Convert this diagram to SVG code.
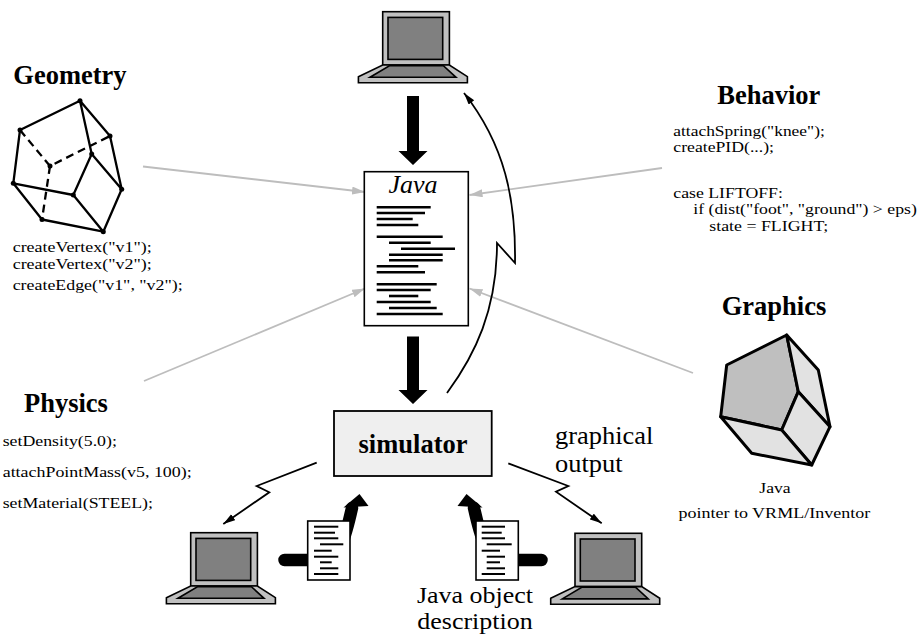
<svg xmlns="http://www.w3.org/2000/svg" width="921" height="637" viewBox="0 0 921 637">
<defs>
<style>
text { font-family: "Liberation Serif", "Times New Roman", serif; fill: #000; }
.title { font-size: 26.5px; font-weight: bold; }
.code { font-size: 15.5px; }
.label { font-size: 24.5px; }
.label2 { font-size: 22.5px; }
.grey { stroke: #bdbdbd; stroke-width: 1.8; fill: none; marker-end: url(#greyhead); }
.bolt { stroke: #000; stroke-width: 1.8; fill: none; marker-end: url(#blackhead); }
.thick { stroke: #000; stroke-width: 12.5; fill: none; stroke-linecap: round; }
.doclines line { stroke: #000; stroke-width: 2.6; }
.small line { stroke: #000; stroke-width: 2; }
.paper { fill: #fff; stroke: #000; stroke-width: 1.6; }
.edge { stroke: #000; stroke-width: 2.3; fill: none; stroke-linecap: round; }
.hidden { stroke-dasharray: 8 5; stroke-linecap: butt; }
.face { stroke: #000; stroke-width: 3; stroke-linejoin: round; }
</style>
<marker id="greyhead" markerUnits="userSpaceOnUse" markerWidth="14" markerHeight="9" refX="13" refY="4" orient="auto">
  <path d="M0,0 L13,4 L0,8 Z" fill="#bdbdbd"/>
</marker>
<marker id="blackhead" markerUnits="userSpaceOnUse" markerWidth="14" markerHeight="8" refX="12" refY="3.5" orient="auto">
  <path d="M0,0 L12,3.5 L0,7 Z" fill="#000"/>
</marker>
<g id="laptop" stroke="#000" stroke-width="1.6">
  <rect x="0" y="0" width="66.7" height="53.3" fill="#c0c0c0"/>
  <rect x="5.3" y="5.7" width="54.7" height="42" fill="#808080"/>
  <path d="M-24.3,65 L0,53.3 L66.7,53.3 L84.7,65 L84.7,71 L-24.3,71 Z" fill="#c0c0c0"/>
  <path d="M-12.7,65.6 L6.7,54 L60.7,54 L73.3,65.6 Z" fill="#808080"/>
</g>
</defs>
<rect width="921" height="637" fill="#fff"/>

<!-- connectors -->
<g id="connectors">
  <path class="grey" d="M143,166.5 L365,192"/>
  <path class="grey" d="M662,168 L469.5,195"/>
  <path class="grey" d="M144,381 L365,288.5"/>
  <path class="grey" d="M693,373 L469.5,288.5"/>
  <path d="M407,96 L419,96 L419,151 L427.5,151 L413,165 L398.5,151 L407,151 Z" fill="#000"/>
  <path d="M407,336.5 L419,336.5 L419,390 L427.5,390 L413,404 L398.5,390 L407,390 Z" fill="#000"/>
  <path class="bolt" d="M447,393 C475,355 497,310 497,243 L515,263 C516,200 505,145 464,93"/>
  <path class="bolt" d="M316.7,462.7 L256.7,486 L269.3,492.3 L223.3,524"/>
  <path class="bolt" d="M508.3,463.3 L568.3,486 L556,491.7 L601.7,523.3"/>
  <path class="thick" d="M284.5,560 L322,560 C340,560 346,535 352,508"/>
  <path d="M343.5,507.5 L368.5,506 L359.5,494 Z" fill="#000"/>
  <path class="thick" d="M541.5,560 L504,560 C486,560 480,535 474,508"/>
  <path d="M482.5,507.5 L457.5,506 L466.5,494 Z" fill="#000"/>
</g>

<!-- workstations -->
<g id="laptop-top"><use href="#laptop" x="382.7" y="11.7"/></g>
<g id="laptop-left"><use href="#laptop" x="190.7" y="532.7"/></g>
<g id="laptop-right"><use href="#laptop" x="575" y="533.3"/></g>

<!-- Java program -->
<g id="java-doc">
  <rect class="paper" x="364.3" y="171.7" width="104" height="154"/>
  <text x="413" y="192.7" text-anchor="middle" style="font-size:26px;font-style:italic">Java</text>
  <g class="doclines">
    <line x1="376.7" y1="207.3" x2="430.7" y2="207.3"/>
    <line x1="376.7" y1="213" x2="425" y2="213"/>
    <line x1="376.7" y1="219" x2="412.7" y2="219"/>
    <line x1="376.7" y1="225" x2="418.3" y2="225"/>
    <line x1="376.7" y1="236.7" x2="442.7" y2="236.7"/>
    <line x1="389" y1="242.7" x2="430.7" y2="242.7"/>
    <line x1="401" y1="248.7" x2="455" y2="248.7"/>
    <line x1="389" y1="254.7" x2="442.7" y2="254.7"/>
    <line x1="389" y1="260.3" x2="442.7" y2="260.3"/>
    <line x1="376.7" y1="266.3" x2="418.3" y2="266.3"/>
    <line x1="376.7" y1="272.3" x2="425" y2="272.3"/>
    <line x1="376.7" y1="284.3" x2="436.7" y2="284.3"/>
    <line x1="376.7" y1="290" x2="430.7" y2="290"/>
    <line x1="389" y1="296" x2="418.3" y2="296"/>
    <line x1="376.7" y1="302" x2="430.7" y2="302"/>
    <line x1="389" y1="308" x2="436.7" y2="308"/>
    <line x1="376.7" y1="314" x2="442.7" y2="314"/>
  </g>
</g>

<!-- simulator -->
<g id="simulator">
  <rect x="334" y="411" width="157.7" height="65" fill="#efefef" stroke="#000" stroke-width="1.8"/>
  <text class="title" x="413" y="453" text-anchor="middle">simulator</text>
</g>

<!-- object descriptions -->
<g id="doc-left" class="small">
  <rect class="paper" x="307.7" y="521" width="42.3" height="59"/>
  <line x1="314" y1="526.7" x2="338.3" y2="526.7"/>
  <line x1="314" y1="532.7" x2="335" y2="532.7"/>
  <line x1="314" y1="538.3" x2="338.3" y2="538.3"/>
  <line x1="320" y1="544.3" x2="343.3" y2="544.3"/>
  <line x1="314" y1="550.7" x2="331.7" y2="550.7"/>
  <line x1="314" y1="556.7" x2="338.3" y2="556.7"/>
  <line x1="320" y1="562.3" x2="331.7" y2="562.3"/>
  <line x1="320" y1="568.3" x2="338.3" y2="568.3"/>
  <line x1="314" y1="574" x2="338.3" y2="574"/>
</g>
<g id="doc-right" class="small">
  <rect class="paper" x="476" y="521" width="42.3" height="59"/>
  <line x1="481.7" y1="526.7" x2="505" y2="526.7"/>
  <line x1="481.7" y1="532.7" x2="501.7" y2="532.7"/>
  <line x1="481.7" y1="538.3" x2="505" y2="538.3"/>
  <line x1="486.7" y1="544.3" x2="511.7" y2="544.3"/>
  <line x1="481.7" y1="550.7" x2="500" y2="550.7"/>
  <line x1="486.7" y1="556.7" x2="505" y2="556.7"/>
  <line x1="486.7" y1="562.3" x2="500" y2="562.3"/>
  <line x1="486.7" y1="568.3" x2="505" y2="568.3"/>
  <line x1="481.7" y1="574" x2="505" y2="574"/>
</g>

<g id="object-label">
  <text class="label2" x="475" y="603" text-anchor="middle" textLength="116" lengthAdjust="spacingAndGlyphs">Java object</text>
  <text class="label2" x="475" y="628.5" text-anchor="middle" textLength="115.5" lengthAdjust="spacingAndGlyphs">description</text>
</g>
<g id="output-label">
  <text class="label" x="555" y="444" textLength="98.3" lengthAdjust="spacingAndGlyphs">graphical</text>
  <text class="label" x="555" y="471.7" textLength="67.5" lengthAdjust="spacingAndGlyphs">output</text>
</g>

<!-- Geometry -->
<g id="geometry">
  <text class="title" x="13.3" y="84">Geometry</text>
  <path class="edge" d="M80,100.7 L20,130 M80,100.7 L110,136 M80,100.7 L91.7,154 M20,130 L13.3,183.3 M110,136 L121.7,189.3 M91.7,154 L73.3,195 M91.7,154 L121.7,189.3 M13.3,183.3 L73.3,195 M13.3,183.3 L42,219.5 M73.3,195 L103.3,231.7 M121.7,189.3 L103.3,231.7 M42,219.5 L103.3,231.7"/>
  <path class="edge hidden" d="M20,130 L50,166 L110,136 M50,166 L42,219.5"/>
  <g fill="#000">
    <circle cx="80" cy="100.7" r="2.5"/><circle cx="20" cy="130" r="2.5"/>
    <circle cx="110" cy="136" r="2.5"/><circle cx="50" cy="166" r="2.5"/>
    <circle cx="91.7" cy="154" r="2.5"/><circle cx="13.3" cy="183.3" r="2.5"/>
    <circle cx="73.3" cy="195" r="2.5"/><circle cx="121.7" cy="189.3" r="2.5"/>
    <circle cx="42" cy="219.5" r="2.5"/><circle cx="103.3" cy="231.7" r="2.5"/>
  </g>
  <text class="code" x="12.7" y="252" textLength="139" lengthAdjust="spacingAndGlyphs">createVertex("v1");</text>
  <text class="code" x="12.7" y="268.5" textLength="139" lengthAdjust="spacingAndGlyphs">createVertex("v2");</text>
  <text class="code" x="12.7" y="290" textLength="170" lengthAdjust="spacingAndGlyphs">createEdge("v1", "v2");</text>
</g>

<!-- Behavior -->
<g id="behavior">
  <text class="title" x="717.3" y="104">Behavior</text>
  <text class="code" x="673.3" y="135.5" textLength="151.5" lengthAdjust="spacingAndGlyphs">attachSpring("knee");</text>
  <text class="code" x="673.3" y="152" textLength="100.7" lengthAdjust="spacingAndGlyphs">createPID(...);</text>
  <text class="code" x="673.3" y="198" textLength="109.6" lengthAdjust="spacingAndGlyphs">case LIFTOFF:</text>
  <text class="code" x="693.3" y="214.3" textLength="223.5" lengthAdjust="spacingAndGlyphs">if (dist("foot", "ground") &gt; eps)</text>
  <text class="code" x="709.3" y="230.6" textLength="119" lengthAdjust="spacingAndGlyphs">state = FLIGHT;</text>
</g>

<!-- Physics -->
<g id="physics">
  <text class="title" x="24" y="411.7">Physics</text>
  <text class="code" x="2.7" y="445.5" textLength="114.2" lengthAdjust="spacingAndGlyphs">setDensity(5.0);</text>
  <text class="code" x="2.7" y="477" textLength="189" lengthAdjust="spacingAndGlyphs">attachPointMass(v5, 100);</text>
  <text class="code" x="2.7" y="508.3" textLength="150.3" lengthAdjust="spacingAndGlyphs">setMaterial(STEEL);</text>
</g>

<!-- Graphics -->
<g id="graphics">
  <text class="title" x="721.7" y="315">Graphics</text>
  <path class="face" fill="#bfbfbf" d="M786.7,335 L726.7,365 L720.7,416.7 L781.7,430 L798.3,391.7 Z"/>
  <path class="face" fill="#e2e2e2" d="M786.7,335 L818.3,370 L830,426.7 L798.3,391.7 Z"/>
  <path class="face" fill="#e2e2e2" d="M798.3,391.7 L830,426.7 L811.7,465 L781.7,430 Z"/>
  <path class="face" fill="#e2e2e2" d="M720.7,416.7 L781.7,430 L811.7,465 L751.7,453.3 Z"/>
  <text class="code" x="775" y="493.3" text-anchor="middle" textLength="31.3" lengthAdjust="spacingAndGlyphs">Java</text>
  <text class="code" x="774.3" y="518.3" text-anchor="middle" textLength="191.7" lengthAdjust="spacingAndGlyphs">pointer to VRML/Inventor</text>
</g>
</svg>
